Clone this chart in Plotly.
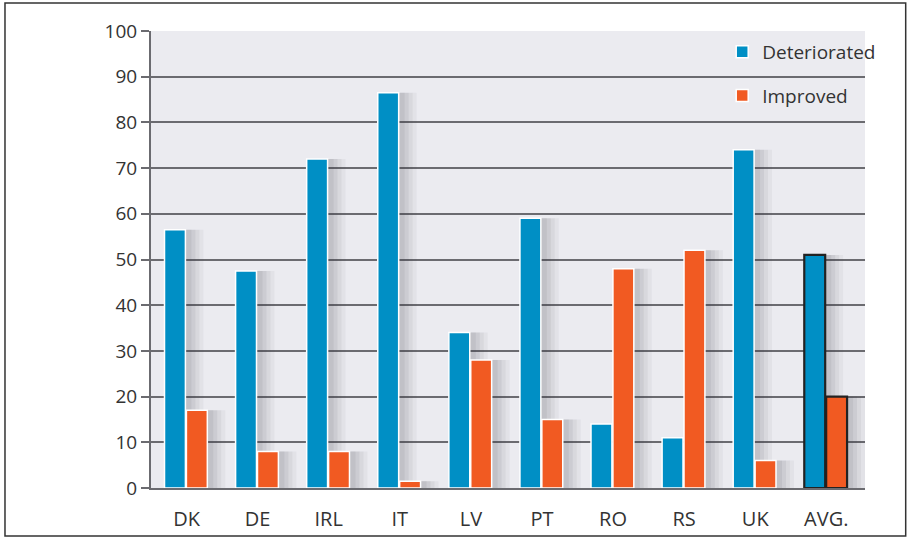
import plotly.graph_objects as go

categories = ["DK", "DE", "IRL", "IT", "LV", "PT", "RO", "RS", "UK", "AVG."]
deteriorated = [56.5, 47.5, 72, 86.5, 34, 59, 14, 11, 74, 51]
improved = [17, 8, 8, 1.5, 28, 15, 48, 52, 6, 20]
y_ticks = [0, 10, 20, 30, 40, 50, 60, 70, 80, 90, 100]

BLUE = "#008fc5"
ORANGE = "#f15a22"
GRID = "#6b6b70"
FONT = "Open Sans"

edge_colors = ["white"] * (len(categories) - 1) + ["#222222"]
edge_widths = [1.5] * (len(categories) - 1) + [2.2]

PX = 1 / 71.4          # one pixel in category units
BAR_W = 21 * PX
OFF_BLUE = -0.31
OFF_ORANGE = OFF_BLUE + BAR_W + 1 * PX

fig = go.Figure()

# soft drop shadows (drawn first, under the bars)
for off, vals in ((OFF_BLUE, deteriorated), (OFF_ORANGE, improved)):
    for k, a in ((16, 0.05), (12, 0.06), (8, 0.07), (4, 0.08)):
        fig.add_trace(go.Bar(
            x=categories, y=vals, showlegend=False, hoverinfo="skip",
            offset=off + 2 * PX, width=BAR_W + k * PX,
            marker=dict(color=f"rgba(60,60,75,{a})", line=dict(width=0)),
        ))

fig.add_trace(go.Bar(
    x=categories, y=deteriorated, name="Deteriorated", legendgroup="a",
    offset=OFF_BLUE, width=BAR_W,
    marker=dict(color=BLUE, line=dict(color=edge_colors, width=edge_widths)),
))
fig.add_trace(go.Bar(
    x=categories, y=improved, name="Improved", legendgroup="b",
    offset=OFF_ORANGE, width=BAR_W,
    marker=dict(color=ORANGE, line=dict(color=edge_colors, width=edge_widths)),
))

fig.update_layout(
    width=909, height=538,
    margin=dict(l=151, r=44, t=31, b=50),
    paper_bgcolor="white",
    plot_bgcolor="#ebebf0",
    barmode="overlay",
    font=dict(family=FONT, size=19, color="#333333"),
    legend=dict(
        x=0.80, y=0.996, xanchor="left", yanchor="top",
        bgcolor="rgba(0,0,0,0)", font=dict(size=19, color="#333333"),
        tracegroupgap=16, itemwidth=30,
    ),
    xaxis=dict(
        showgrid=False, showline=True, linecolor=GRID, linewidth=2,
        ticks="", ticklabelstandoff=12, tickfont=dict(size=20),
        automargin=False,
    ),
    yaxis=dict(
        range=[0, 100], tickvals=y_ticks, showgrid=True, gridcolor=GRID,
        gridwidth=2, zeroline=False, showline=True, linecolor=GRID, linewidth=2,
        ticks="outside", ticklen=8, tickwidth=2, tickcolor=GRID,
        tickfont=dict(size=19), automargin=False,
    ),
    shapes=[dict(
        type="rect", xref="paper", yref="paper",
        x0=-0.2045, x1=1.057, y0=-0.105, y1=1.061,
        line=dict(color="#333333", width=1.5), fillcolor="rgba(0,0,0,0)",
        layer="below",
    )],
)

fig.write_html("out.html", config={"displayModeBar": False},
               post_script="document.body.style.margin='0';")
